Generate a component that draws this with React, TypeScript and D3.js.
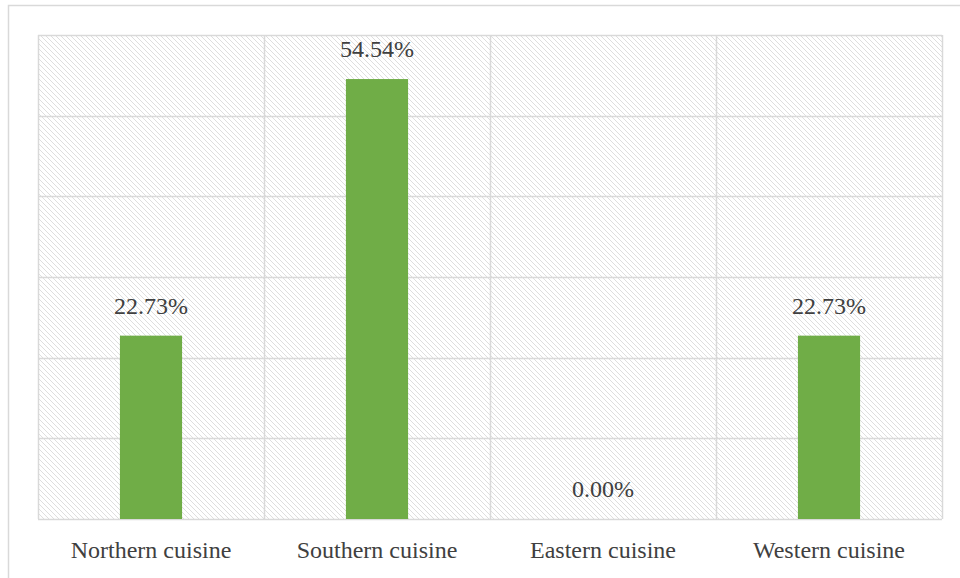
import React from "react";
import * as d3 from "d3";

const categories = ["Northern cuisine", "Southern cuisine", "Eastern cuisine", "Western cuisine"];
const values = [22.73, 54.54, 0.0, 22.73];
const yTicks = [0, 10, 20, 30, 40, 50, 60];

export default function App() {
  const W = 960, H = 578;
  const m = { left: 38, right: 18, top: 35, bottom: 59 };
  const x = d3.scaleBand<string>().domain(categories).range([m.left, W - m.right]).paddingInner(0).paddingOuter(0);
  const y = d3.scaleLinear().domain([0, 60]).range([H - m.bottom, m.top]);
  const barW = x.bandwidth() * 0.275;
  const grid = "#d9d9d9";
  const textColor = "#404040";
  const font = { fontFamily: "Liberation Serif" };
  return (
    <svg width={W} height={H} style={{ position: "absolute", left: 0, top: 0, background: "#fff" }}>
      <defs>
        <pattern id="diag" width={5} height={5} patternUnits="userSpaceOnUse">
          <rect width={5} height={5} fill="#fff" />
          <path d="M-1,-1 L6,6 M-1,4 L1,6 M4,-1 L6,1" stroke="#dedede" strokeWidth={1} />
        </pattern>
      </defs>
      <rect x={8.5} y={5.5} width={W + 10} height={H + 10} fill="#fff" stroke={grid} strokeWidth={1.5} />
      <rect x={m.left} y={m.top} width={W - m.left - m.right} height={H - m.top - m.bottom} fill="url(#diag)" />
      {yTicks.map((t) => (
        <line key={"h" + t} x1={m.left} x2={W - m.right} y1={Math.round(y(t)) + 0.5} y2={Math.round(y(t)) + 0.5} stroke={grid} strokeWidth={1.5} />
      ))}
      {[...categories.map((c) => x(c)!), W - m.right].map((xx, i) => (
        <line key={"v" + i} x1={Math.round(xx) + 0.5} x2={Math.round(xx) + 0.5} y1={m.top} y2={H - m.bottom} stroke={grid} strokeWidth={1.5} />
      ))}
      {categories.map((c, i) => {
        const cx = x(c)! + x.bandwidth() / 2;
        return (
          <g key={c}>
            <rect x={cx - barW / 2} y={y(values[i])} width={barW} height={y(0) - y(values[i])} fill="#70ad47" />
            <text x={cx} y={y(values[i]) - 22} textAnchor="middle" fontSize={24} fill={textColor} style={font}>
              {values[i].toFixed(2) + "%"}
            </text>
            <text x={cx} y={558} textAnchor="middle" fontSize={24} fill={textColor} style={font}>{c}</text>
          </g>
        );
      })}
    </svg>
  );
}
